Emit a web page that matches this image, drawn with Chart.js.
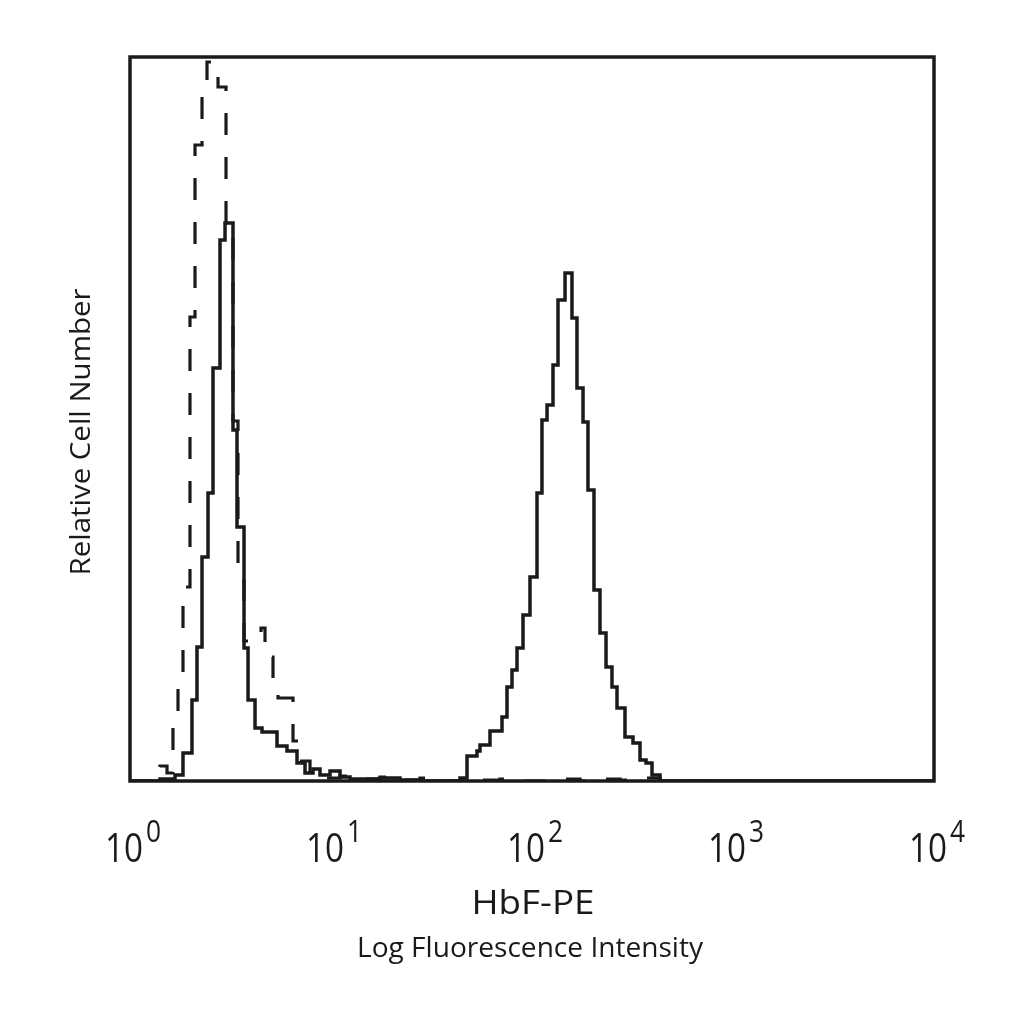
<!DOCTYPE html>
<html>
<head>
<meta charset="utf-8">
<script src="https://cdn.jsdelivr.net/npm/chart.js@4.4.1/dist/chart.umd.min.js"></script>
<style>
  html, body { margin: 0; padding: 0; background: #fff; }
  #wrap { width: 1024px; height: 1024px; }
</style>
</head>
<body>
<div id="wrap"><canvas id="hist" width="1024" height="1024"></canvas></div>
<script>
// x axis ticks (decades)
const tickValues = [1, 10, 100, 1000, 10000];
const tickExponents = ['0', '1', '2', '3', '4'];

// HbF-PE stained sample (solid) - left edge of each histogram step
const stainedX = [1, 1.41, 1.674, 1.835, 2.034, 2.154, 2.282, 2.444, 2.588, 2.804, 2.970, 3.254, 3.407, 3.692,
  3.866, 4.188, 4.537, 5.388, 6.040, 6.774, 7.425, 8.138, 8.816, 9.886, 11.09, 12.43, 17.53, 22.04, 27.72,
  43.83, 47.50, 53.25, 55.12, 61.81, 70.92, 75.10, 79.53, 84.22, 90.21, 97.73, 105.9, 112.1, 118.8, 127.2,
  134.7, 146.0, 158.1, 167.4, 179.4, 189.9, 203.4, 217.9, 233.5, 250.0, 264.8, 290.2, 318.0, 344.6, 369.3,
  395.4, 433.4, 10000];
const stainedY = [0, 2, 6, 28, 81, 134, 224, 288, 413, 541, 558, 351, 254, 133,
  81, 53, 49, 35, 30, 18, 8, 12, 6, 10, 4, 2, 3, 1, 0,
  3, 25, 30, 36, 50, 64, 94, 111, 133, 166, 204, 288, 361, 376, 416,
  481, 508, 463, 393, 359, 291, 191, 148, 114, 94, 73, 44, 38, 21, 18,
  6, 0, 0];

// isotype control (dashed)
const controlX = [1, 1.41, 1.528, 1.636, 1.733, 1.835, 1.988, 2.106, 2.282, 2.416, 2.741, 3.004, 3.254, 3.446,
  3.692, 4.486, 4.696, 5.146, 5.451, 6.471, 7.013, 7.863, 8.816, 11.09, 13.94, 17.53, 22.04, 27.72, 34.85,
  49.15, 55.12, 69.31, 87.16, 137.8, 173.3, 217.9, 274.1, 344.6, 433.4, 10000];
const controlY = [0, 15, 8, 58, 99, 194, 464, 636, 690, 719, 694, 545, 360, 200,
  140, 153, 124, 100, 83, 40, 20, 6, 3, 5, 2, 4, 1, 3, 0,
  3, 1, 2, 0, 2, 0, 2, 1, 3, 0, 0];

const yMax = 724;
const INK = '#1a1a1a';
const FONT = '"Open Sans", "Noto Sans", sans-serif';

const toPoints = (xs, ys) => xs.map((x, i) => ({ x, y: ys[i] }));

// draw text squeezed/stretched to a target width
function fitText(ctx, text, x, y, size, width, align) {
  ctx.font = `${size}px ${FONT}`;
  const w = ctx.measureText(text).width;
  const sx = width / w;
  ctx.save();
  ctx.translate(x, y);
  ctx.scale(sx, 1);
  ctx.textAlign = align || 'center';
  ctx.textBaseline = 'alphabetic';
  ctx.fillText(text, 0, 0);
  ctx.restore();
}

const framePlugin = {
  id: 'frameAndLabels',
  afterDatasetsDraw(chart) {
    const { ctx, chartArea: a } = chart;
    const xs = chart.scales.x;
    ctx.save();
    ctx.strokeStyle = INK;
    ctx.lineWidth = 3.5;
    ctx.strokeRect(a.left, a.top, a.right - a.left, a.bottom - a.top);

    ctx.fillStyle = INK;
    // decade tick labels 10^n
    tickValues.forEach((v, i) => {
      const px = xs.getPixelForValue(v);
      const mainW = 38, gap = 3;
      ctx.font = `31px ${FONT}`;
      const supW = ctx.measureText(tickExponents[i]).width * 0.85;
      const start = px - (mainW + gap + supW) / 2 + 3;
      fitText(ctx, '10', start, 862, 41, mainW, 'left');
      fitText(ctx, tickExponents[i], start + mainW + gap, 842, 31, supW, 'left');
    });

    fitText(ctx, 'HbF-PE', 533, 914, 32, 123);
    fitText(ctx, 'Log Fluorescence Intensity', 530, 957, 27, 346);

    ctx.save();
    ctx.translate(90, 432);
    ctx.rotate(-Math.PI / 2);
    fitText(ctx, 'Relative Cell Number', 0, 0, 28, 287);
    ctx.restore();
    ctx.restore();
  }
};

new Chart(document.getElementById('hist'), {
  type: 'line',
  data: {
    datasets: [
      {
        label: 'Isotype control',
        data: toPoints(controlX, controlY),
        stepped: true,
        borderColor: INK,
        borderWidth: 3.2,
        borderDash: [22, 22],
        pointRadius: 0,
        fill: false,
      },
      {
        label: 'HbF-PE',
        data: toPoints(stainedX, stainedY),
        stepped: true,
        borderColor: INK,
        borderWidth: 3.5,
        pointRadius: 0,
        fill: false,
      },
    ],
  },
  options: {
    responsive: false,
    devicePixelRatio: 1,
    animation: false,
    layout: { padding: { left: 130, right: 90, top: 57, bottom: 0 } },
    plugins: { legend: { display: false }, tooltip: { enabled: false } },
    scales: {
      x: {
        type: 'logarithmic',
        min: 1,
        max: 10000,
        grid: { display: false },
        border: { display: false },
        ticks: { display: false },
        afterBuildTicks: (s) => { s.ticks = tickValues.map(v => ({ value: v })); },
        afterFit: (s) => { s.height = 1024 - 781; },
      },
      y: { type: 'linear', min: 0, max: yMax, display: false },
    },
  },
  plugins: [framePlugin],
});
</script>
</body>
</html>
